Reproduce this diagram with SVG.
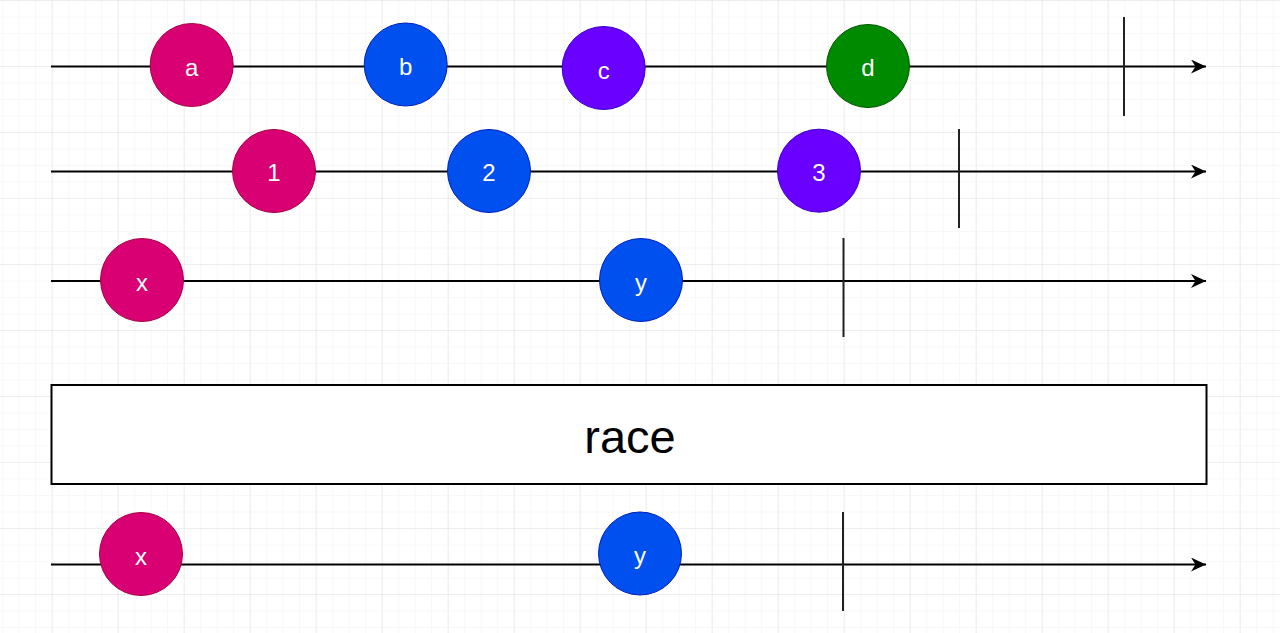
<svg xmlns="http://www.w3.org/2000/svg" width="1280" height="633" viewBox="0 0 1280 633">
<defs>
<pattern id="minor" x="51.7" y="0" width="16.5" height="16.5" patternUnits="userSpaceOnUse">
<path d="M0,0 H16.5 M0,0 V16.5" fill="none" stroke="#f1f1f1" stroke-width="1"/>
</pattern>
<pattern id="major" x="51.7" y="0" width="66" height="66" patternUnits="userSpaceOnUse">
<path d="M0,0 H66 M0,0 V66" fill="none" stroke="#e4e4e4" stroke-width="1"/>
</pattern>
<marker id="arr" viewBox="0 0 15 14" refX="15" refY="7" markerWidth="15" markerHeight="14" markerUnits="userSpaceOnUse" orient="auto">
<path d="M0,0 L15,7 L0,14 L4.5,7 Z" fill="#000"/>
</marker>
<style>
.stream{stroke:#000;stroke-width:2;fill:none}
.term{stroke:#222;stroke-width:2;fill:none}
.lbl{font-family:"Liberation Sans",Arial,sans-serif;font-size:24px;fill:#fff;text-anchor:middle;dominant-baseline:central}
.pink{fill:#d80073;stroke:#a50040;stroke-width:1}
.blue{fill:#0050ef;stroke:#001dbc;stroke-width:1}
.purple{fill:#6a00ff;stroke:#3700cc;stroke-width:1}
.green{fill:#008a00;stroke:#005700;stroke-width:1}
</style>
</defs>
<rect width="1280" height="633" fill="#fff"/>
<rect width="1280" height="633" fill="url(#minor)"/>
<rect width="1280" height="633" fill="url(#major)"/>
<g id="connectors">
<line class="stream" x1="51" y1="66.5" x2="1206" y2="66.5" marker-end="url(#arr)"/>
<line class="stream" x1="51" y1="171.5" x2="1206" y2="171.5" marker-end="url(#arr)"/>
<line class="stream" x1="51" y1="281" x2="1206" y2="281" marker-end="url(#arr)"/>
<line class="stream" x1="51" y1="564.5" x2="1206" y2="564.5" marker-end="url(#arr)"/>
<line class="term" x1="1124" y1="17" x2="1124" y2="116"/>
<line class="term" x1="959" y1="129" x2="959" y2="228"/>
<line class="term" x1="843.5" y1="238" x2="843.5" y2="337"/>
<line class="term" x1="843" y1="512" x2="843" y2="611"/>
</g>
<g id="node-a"><circle class="pink" cx="191.7" cy="65" r="41.5"/><text class="lbl" x="191.7" y="67">a</text></g>
<g id="node-b"><circle class="blue" cx="405.7" cy="64.5" r="41.5"/><text class="lbl" x="405.7" y="66.5">b</text></g>
<g id="node-c"><circle class="purple" cx="603.7" cy="68" r="41.5"/><text class="lbl" x="603.7" y="70.5">c</text></g>
<g id="node-d"><circle class="green" cx="868" cy="66" r="41.5"/><text class="lbl" x="868" y="67.5">d</text></g>
<g id="node-1"><circle class="pink" cx="274" cy="171" r="41.5"/><text class="lbl" x="274" y="172">1</text></g>
<g id="node-2"><circle class="blue" cx="489" cy="171" r="41.5"/><text class="lbl" x="489" y="172">2</text></g>
<g id="node-3"><circle class="purple" cx="819" cy="170.7" r="41.5"/><text class="lbl" x="819" y="172">3</text></g>
<g id="node-x1"><circle class="pink" cx="142" cy="280" r="41.5"/><text class="lbl" x="142" y="282">x</text></g>
<g id="node-y1"><circle class="blue" cx="641" cy="280" r="41.5"/><text class="lbl" x="641" y="282">y</text></g>
<g id="node-race"><rect x="51.5" y="385" width="1155" height="99" fill="#fff" stroke="#000" stroke-width="2"/><text x="630" y="436.5" font-family="'Liberation Sans',Arial,sans-serif" font-size="47" fill="#000" text-anchor="middle" dominant-baseline="central">race</text></g>
<g id="node-x2"><circle class="pink" cx="141" cy="554" r="41.5"/><text class="lbl" x="141" y="556">x</text></g>
<g id="node-y2"><circle class="blue" cx="640" cy="553.5" r="41.5"/><text class="lbl" x="640" y="555.5">y</text></g>
</svg>
